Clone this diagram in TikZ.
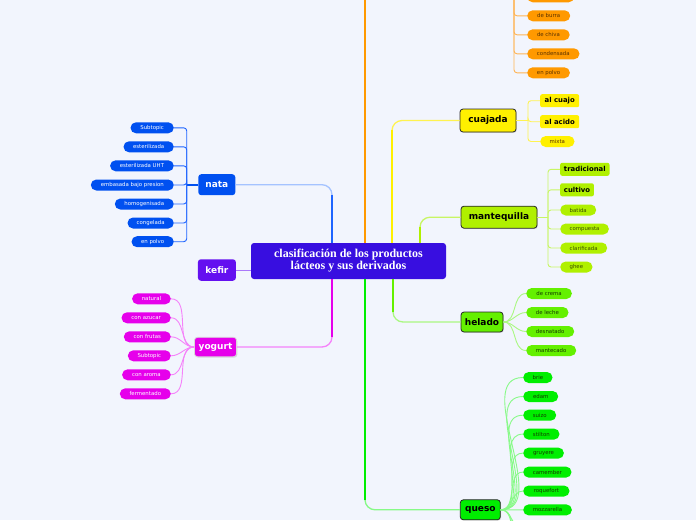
\documentclass[tikz,border=0pt]{standalone}
\usepackage{fontspec}
\setmainfont{DejaVu Sans}
\newfontfamily\ctrfont{Liberation Serif}
\usetikzlibrary{shadows}

\definecolor{bg}{RGB}{242,245,253}
\definecolor{ctr}{RGB}{56,14,224}
\definecolor{org}{RGB}{255,153,0}
\definecolor{orgl}{RGB}{255,180,85}
\definecolor{orgt}{RGB}{90,50,0}
\definecolor{ylw}{RGB}{255,240,0}
\definecolor{ylwl}{RGB}{255,243,80}
\definecolor{lim}{RGB}{176,240,0}
\definecolor{liml}{RGB}{200,245,100}
\definecolor{limt}{RGB}{60,80,0}
\definecolor{hel}{RGB}{100,240,0}
\definecolor{hell}{RGB}{170,248,130}
\definecolor{qso}{RGB}{0,238,0}
\definecolor{qsol}{RGB}{135,250,135}
\definecolor{grt}{RGB}{20,60,0}
\definecolor{blu}{RGB}{0,80,240}
\definecolor{blum}{RGB}{30,100,255}
\definecolor{blul}{RGB}{165,195,255}
\definecolor{kef}{RGB}{100,16,240}
\definecolor{kefl}{RGB}{170,120,250}
\definecolor{mag}{RGB}{230,0,235}
\definecolor{magl}{RGB}{245,130,250}

\tikzset{
  topic/.style={rounded corners=3pt, inner sep=0pt, align=center,
    font=\bfseries\fontsize{9}{10}\selectfont},
  bordered/.style={draw=black!85, line width=0.8pt,
    drop shadow={opacity=0.25, shadow xshift=0.8pt, shadow yshift=-0.9pt}},
  leaf/.style={rounded corners=5.5pt, minimum height=11pt, inner sep=0pt,
    font=\fontsize{5.4}{6}\selectfont},
  leafb/.style={rounded corners=2pt, minimum height=13pt, inner sep=0pt,
    font=\bfseries\fontsize{6.9}{8}\selectfont},
  thickbr/.style={line width=2.6pt},
  thinbr/.style={line width=1.3pt, rounded corners=10pt},
  twig/.style={line width=0.9pt, rounded corners=3pt},
}

\begin{document}
\begin{tikzpicture}[x=1pt, y=-1pt]
\useasboundingbox (0,0) rectangle (696,520);
\fill[bg] (0,0) rectangle (696,520);
\clip (0,0) rectangle (696,520);

% ---------- central ----------
\node[fill=ctr, rounded corners=3pt, minimum width=195pt, minimum height=36pt,
  inner sep=0pt, text=white, align=center,
  font=\ctrfont\bfseries\fontsize{12}{12}\selectfont] (c) at (348.5,261)
  {clasificación de los productos\\lácteos y sus derivados};

% ---------- helper coordinates ----------
\coordinate (oM) at (365,-20);
\coordinate (oV) at (514,-20);
\coordinate (yM) at (392,130);
\coordinate (mM) at (420,227);
\coordinate (hM) at (393,312);
\coordinate (qM) at (365,500);
\coordinate (bM) at (332,195);
\coordinate (gM) at (332,337);
\coordinate (nV) at (186.7,0);
\coordinate (cV) at (528,0);
\coordinate (mV) at (548,0);

% ---------- topic nodes ----------
\node[topic, bordered, fill=ylw, minimum width=56pt, minimum height=23pt] (cua) at (488,120.5) {cuajada};
\node[topic, bordered, fill=lim, minimum width=76pt, minimum height=22pt] (man) at (499,217.2) {mantequilla};
\node[topic, bordered, fill=hel, minimum width=42pt, minimum height=20pt] (hel) at (482,322) {helado};
\node[topic, bordered, fill=qso, minimum width=40pt, minimum height=20pt] (que) at (480.3,509.8) {queso};
\node[topic, fill=blu, text=white, minimum width=37pt, minimum height=21pt] (nat) at (216.8,184.7) {nata};
\node[topic, fill=kef, text=white, minimum width=38pt, minimum height=21.5pt] (kef) at (216.9,270) {kefir};
\node[topic, fill=mag, text=white, draw=white!85!black, line width=0.8pt,
  drop shadow={opacity=0.25, shadow xshift=0.8pt, shadow yshift=-0.9pt},
  minimum width=42pt, minimum height=19.5pt] (yog) at (215.5,347) {yogurt};

% ---------- main branches ----------
\draw[org, line width=2.6pt] (c.north -| oM) -- (oM);
\draw[ylwl, thinbr] (c.north -| yM) |- (cua.west);
\draw[ylw, thickbr] (c.north -| yM) -- (yM);
\draw[liml, thinbr] (c.north -| mM) |- (man.west);
\draw[lim, thickbr] (c.north -| mM) -- (mM);
\draw[hell, thinbr] (c.south -| hM) |- (hel.west);
\draw[hel, thickbr] (c.south -| hM) -- (hM);
\draw[qsol, thinbr] (c.south -| qM) |- (que.west);
\draw[qso, thickbr] (c.south -| qM) -- (qM);
\draw[blul, thinbr] (c.north -| bM) |- (nat.east);
\draw[blum, thickbr] (c.north -| bM) -- (bM);
\draw[magl, thinbr] (c.south -| gM) |- (yog.east);
\draw[mag, thickbr] (c.south -| gM) -- (gM);
\draw[kefl, line width=1pt] (kef.east) -- (c.west |- kef.east);

% ---------- orange (leche) leaves ----------
\node[leaf, fill=org, minimum width=47pt, anchor=west] (o0) at (527,-3.2) {};
\node[leaf, fill=org, text=orgt, minimum width=43pt, anchor=west] (o1) at (527,15.8) {de burra};
\node[leaf, fill=org, text=orgt, minimum width=42.5pt, anchor=west] (o2) at (527,34.8) {de chiva};
\node[leaf, fill=org, text=orgt, minimum width=52.3pt, anchor=west] (o3) at (527,53.8) {condensada};
\node[leaf, fill=org, text=orgt, minimum width=42.7pt, anchor=west] (o4) at (527,72.8) {en polvo};
\foreach \n in {o0,o1,o2,o3,o4} \draw[orgl, twig] (oV) |- (\n.west);

% ---------- cuajada leaves ----------
\node[leafb, fill=ylw, minimum width=39pt, anchor=west] (c1) at (540,100.7) {al cuajo};
\node[leafb, fill=ylw, minimum width=39pt, anchor=west] (c2) at (540,121.7) {al acido};
\node[leaf, fill=ylw, text=orgt, minimum width=34.3pt, anchor=west] (c3) at (540,141.5) {mixta};
\draw[ylwl, twig] (cua.east) -- (cV |- cua.east);
\foreach \n in {c1,c2,c3} \draw[ylwl, twig] (cV |- cua.east) |- (\n.west);

% ---------- mantequilla leaves ----------
\node[leafb, fill=lim, minimum width=49.3pt, anchor=west] (m1) at (560,169.3) {tradicional};
\node[leafb, fill=lim, minimum width=33.7pt, anchor=west] (m2) at (560,189.8) {cultivo};
\node[leaf, fill=lim, text=limt, minimum width=36pt, anchor=west] (m3) at (560,210) {batida};
\node[leaf, fill=lim, text=limt, minimum width=48.7pt, anchor=west] (m4) at (560,229) {compuesta};
\node[leaf, fill=lim, text=limt, minimum width=47pt, anchor=west] (m5) at (560,248) {clarificada};
\node[leaf, fill=lim, text=limt, minimum width=32.3pt, anchor=west] (m6) at (560,267) {ghee};
\draw[liml, twig] (man.east) -- (mV |- man.east);
\foreach \n in {m1,m2,m3,m4,m5,m6} \draw[liml, twig] (mV |- man.east) |- (\n.west);

% ---------- helado leaves ----------
\node[leaf, fill=hel, text=grt, minimum width=45.7pt, anchor=west] (h1) at (526,293.5) {de crema};
\node[leaf, fill=hel, text=grt, minimum width=42.3pt, anchor=west] (h2) at (526,312.5) {de leche};
\node[leaf, fill=hel, text=grt, minimum width=48pt, anchor=west] (h3) at (526,331.5) {desnatado};
\node[leaf, fill=hel, text=grt, minimum width=50pt, anchor=west] (h4) at (526,350.5) {mantecado};
\foreach \n in {h1,h2,h3,h4} \draw[hell, line width=0.9pt] (hel.east) to[out=0,in=180] (\n.west);

% ---------- queso leaves ----------
\node[leaf, fill=qso, text=grt, minimum width=29.3pt, anchor=west] (q1) at (523,377.5) {brie};
\node[leaf, fill=qso, text=grt, minimum width=35pt, anchor=west] (q2) at (523,396.5) {edam};
\node[leaf, fill=qso, text=grt, minimum width=33pt, anchor=west] (q3) at (523,415.2) {suizo};
\node[leaf, fill=qso, text=grt, minimum width=36.3pt, anchor=west] (q4) at (523,434.1) {stilton};
\node[leaf, fill=qso, text=grt, minimum width=40.7pt, anchor=west] (q5) at (523,453.1) {gruyere};
\node[leaf, fill=qso, text=grt, minimum width=48.3pt, anchor=west] (q6) at (523,472.1) {camember};
\node[leaf, fill=qso, text=grt, minimum width=46.3pt, anchor=west] (q7) at (523,491) {roquefort};
\node[leaf, fill=qso, text=grt, minimum width=48.7pt, anchor=west] (q8) at (523,509.9) {mozzarella};
\coordinate (q9) at (523,528.8);
\coordinate (q10) at (523,547.7);
\coordinate (q11) at (523,566.6);
\foreach \n in {q1,q2,q3,q4,q5,q6,q7,q8} \draw[qsol, line width=0.9pt] (que.east) to[out=0,in=180] (\n.west);
\foreach \n in {q9,q10,q11} \draw[qsol, line width=0.9pt] (que.east) to[out=0,in=180] (\n);

% ---------- nata leaves ----------
\node[leaf, fill=blu, text=white, minimum width=43.3pt, anchor=east] (n1) at (174,127.8) {Subtopic};
\node[leaf, fill=blu, text=white, minimum width=50.3pt, anchor=east] (n2) at (174,146.8) {esterilizada};
\node[leaf, fill=blu, text=white, minimum width=63.7pt, anchor=east] (n3) at (174,165.8) {esterilizada UHT};
\node[leaf, fill=blu, text=white, minimum width=83pt, anchor=east] (n4) at (174,185) {embasada bajo presion};
\node[leaf, fill=blu, text=white, minimum width=59pt, anchor=east] (n5) at (174,204) {homogenisada};
\node[leaf, fill=blu, text=white, minimum width=46.3pt, anchor=east] (n6) at (174,223) {congelada};
\node[leaf, fill=blu, text=white, minimum width=42.3pt, anchor=east] (n7) at (174,241.7) {en polvo};
\draw[blu, line width=1.6pt] (nat.west) -- (nV |- nat.west);
\foreach \n in {n1,n2,n3,n4,n5,n6,n7} \draw[blum, twig] (nV |- nat.west) |- (\n.east);

% ---------- yogurt leaves ----------
\node[leaf, fill=mag, text=white, minimum width=38.7pt, anchor=east] (y1) at (171,298.8) {natural};
\node[leaf, fill=mag, text=white, minimum width=49.3pt, anchor=east] (y2) at (171,317.8) {con azucar};
\node[leaf, fill=mag, text=white, minimum width=47pt, anchor=east] (y3) at (171,336.8) {con frutas};
\node[leaf, fill=mag, text=white, minimum width=43pt, anchor=east] (y4) at (171,355.8) {Subtopic};
\node[leaf, fill=mag, text=white, minimum width=48.7pt, anchor=east] (y5) at (171,374.8) {con aroma};
\node[leaf, fill=mag, text=white, minimum width=51pt, anchor=east] (y6) at (171,393.8) {fermentado};
\foreach \n in {y1,y2,y3,y4,y5,y6} \draw[magl, line width=0.9pt] (yog.west) to[out=180,in=0] (\n.east);

\end{tikzpicture}
\end{document}
